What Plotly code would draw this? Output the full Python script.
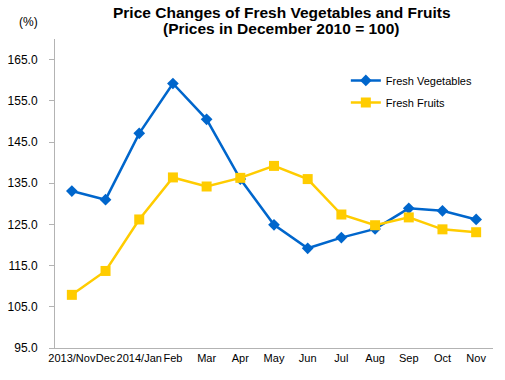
import plotly.graph_objects as go

categories = ["2013/Nov", "Dec", "2014/Jan", "Feb", "Mar", "Apr", "May",
              "Jun", "Jul", "Aug", "Sep", "Oct", "Nov"]
vegetables = [133.1, 131.0, 147.1, 159.2, 150.5, 136.0, 124.9,
              119.2, 121.8, 123.9, 128.9, 128.3, 126.2]
fruits = [107.9, 113.7, 126.2, 136.4, 134.2, 136.3, 139.2,
          136.0, 127.4, 124.8, 126.7, 123.8, 123.1]
y_ticks = [95, 105, 115, 125, 135, 145, 155, 165]

FONT = "Liberation Sans, Arial, sans-serif"

fig = go.Figure()
fig.add_trace(go.Scatter(
    x=categories, y=vegetables, name="Fresh Vegetables",
    mode="lines+markers", legendgroup="a",
    line=dict(color="#0066CC", width=2.5),
    marker=dict(symbol="diamond", size=9, color="#0066CC"),
))
fig.add_trace(go.Scatter(
    x=categories, y=fruits, name="Fresh Fruits",
    mode="lines+markers", legendgroup="b",
    line=dict(color="#FFCC00", width=2.5),
    marker=dict(symbol="square", size=10, color="#FFCC00"),
))

fig.update_layout(
    width=505, height=380,
    margin=dict(l=55, r=12, t=39, b=32, autoexpand=False),
    paper_bgcolor="white", plot_bgcolor="white",
    font=dict(family=FONT, size=12, color="black"),
    legend=dict(
        x=0.664, y=0.913, xanchor="left", yanchor="top",
        font=dict(family=FONT, size=11, color="black"),
        bgcolor="rgba(0,0,0,0)", tracegroupgap=3,
        traceorder="grouped", itemwidth=30,
    ),
    showlegend=True,
)
fig.update_xaxes(
    type="category", range=[-0.5, 12.5],
    showgrid=False, showline=True, linecolor="#B3B3B3",
    linewidth=1, ticks="", tickangle=0, automargin=False,
    tickfont=dict(family=FONT, size=11), zeroline=False,
)
fig.update_yaxes(
    range=[95, 170], tickvals=y_ticks, tickformat=".1f",
    showgrid=False, showline=True, linecolor="#B3B3B3", linewidth=1,
    ticks="outside", ticklen=5, tickcolor="#B3B3B3", automargin=False,
    ticklabelstandoff=9,
    tickfont=dict(family=FONT, size=12), zeroline=False,
)
fig.add_annotation(
    text="<b>Price Changes of Fresh Vegetables and Fruits</b>",
    xref="paper", yref="paper", x=0.518, y=(348 - 12) / 309,
    xanchor="center", yanchor="middle",
    showarrow=False, font=dict(family=FONT, size=15.5, color="black"),
)
fig.add_annotation(
    text="<b>(Prices in December 2010 = 100)</b>",
    xref="paper", yref="paper", x=0.518, y=(348 - 28) / 309,
    xanchor="center", yanchor="middle",
    showarrow=False, font=dict(family=FONT, size=15.5, color="black"),
)
fig.add_annotation(
    text="(%)", xref="paper", yref="paper", x=-0.0616, y=1.055,
    xanchor="center", yanchor="middle", showarrow=False,
    font=dict(family=FONT, size=12),
)

fig.write_html("out.html", config={"displayModeBar": False},
               post_script="document.body.style.margin='0';document.body.style.overflow='hidden';")
